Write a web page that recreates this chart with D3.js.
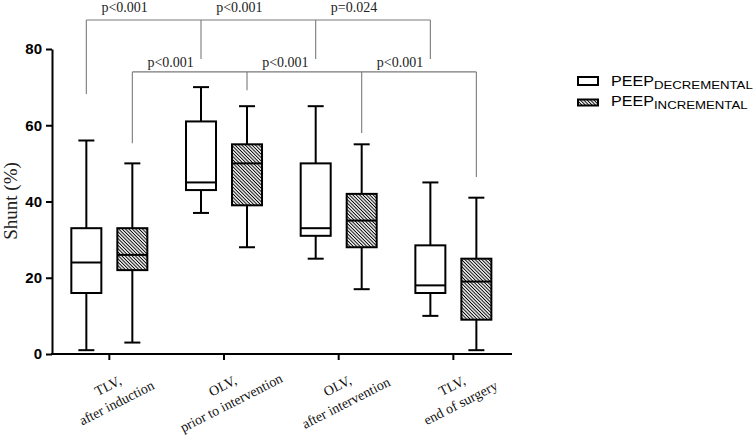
<!DOCTYPE html>
<html>
<head>
<meta charset="utf-8">
<script src="https://cdn.jsdelivr.net/npm/d3@7"></script>
<style>
html,body{margin:0;padding:0;background:#fff;}
svg{display:block;}
</style>
</head>
<body>
<svg id="chart" width="755" height="438"></svg>
<script>
// ---------- data ----------
const groups = ["TLV,|after induction", "OLV,|prior to intervention", "OLV,|after intervention", "TLV,|end of surgery"];
const series = ["DECREMENTAL", "INCREMENTAL"];
// [min, q1, median, q3, max] per group
const decremental = [
  [1, 16, 24, 33, 56],
  [37, 43, 45, 61, 70],
  [25, 31, 33, 50, 65],
  [10, 16, 18, 28.5, 45]
];
const incremental = [
  [3, 22, 26, 33, 50],
  [28, 39, 50, 55, 65],
  [17, 28, 35, 42, 55],
  [1, 9, 19, 25, 41]
];
const yTicks = [0, 20, 40, 60, 80];
const yLabel = "Shunt (%)";
// brackets: level (data units), drop end per group (data units), p labels
const topBracketLevel = 87.6;
const topBracketEnds = [68.2, 77.4, 77.4, 77.4];
const topBracketLabels = ["p<0.001", "p<0.001", "p=0.024"];
const lowBracketLevel = 74.0;
const lowBracketEnds = [55.3, 69.2, 58.0, 46.4];
const lowBracketLabels = ["p<0.001", "p<0.001", "p<0.001"];

// ---------- layout ----------
const svg = d3.select("#chart");
const serif = "'Liberation Serif','Times New Roman',serif";
const sans = "'Liberation Sans',Arial,sans-serif";

const x = d3.scaleBand().domain(groups).range([52, 510.7]).padding(0);
const xi = d3.scalePoint().domain(series).range([-23, 23]);
const y = d3.scaleLinear().domain([0, 80]).range([354, 49]);
const boxW = 30, capW = 16;
const cx = (g, s) => x(g) + x.bandwidth() / 2 + xi(s);

// hatch pattern
const defs = svg.append("defs");
const pat = defs.append("pattern").attr("id", "hatch")
  .attr("patternUnits", "userSpaceOnUse").attr("width", 8).attr("height", 2.4)
  .attr("patternTransform", "rotate(45)");
pat.append("rect").attr("width", 8).attr("height", 2.4).attr("fill", "#fff");
pat.append("line").attr("x1", 0).attr("x2", 8).attr("y1", 1.2).attr("y2", 1.2)
  .attr("stroke", "#000").attr("stroke-width", 1);

// ---------- brackets ----------
function bracket(level, ends, labels, seriesName, labelDy) {
  const g = svg.append("g").attr("stroke", "#7a7a7a").attr("stroke-width", 1.1).attr("fill", "none");
  const xs = groups.map(gr => cx(gr, seriesName));
  g.append("line").attr("x1", xs[0]).attr("x2", xs[xs.length - 1])
    .attr("y1", y(level)).attr("y2", y(level));
  xs.forEach((xx, i) => {
    g.append("line").attr("x1", xx).attr("x2", xx).attr("y1", y(level)).attr("y2", y(ends[i]));
  });
  labels.forEach((t, i) => {
    svg.append("text").attr("x", (xs[i] + xs[i + 1]) / 2 - 19).attr("y", y(level) + labelDy)
      .attr("text-anchor", "middle").attr("font-family", serif).attr("font-size", 14)
      .attr("fill", "#222").text(t);
  });
}
bracket(topBracketLevel, topBracketEnds, topBracketLabels, "DECREMENTAL", -8);
bracket(lowBracketLevel, lowBracketEnds, lowBracketLabels, "INCREMENTAL", -5);

// ---------- boxes ----------
function drawBoxes(data, s, fill) {
  data.forEach((d, i) => {
    const c = cx(groups[i], s);
    const [mn, q1, md, q3, mx] = d;
    const g = svg.append("g").attr("stroke", "#000").attr("stroke-width", 2).attr("fill", "none");
    g.append("line").attr("x1", c).attr("x2", c).attr("y1", y(mx)).attr("y2", y(q3));
    g.append("line").attr("x1", c).attr("x2", c).attr("y1", y(q1)).attr("y2", y(mn));
    g.append("line").attr("x1", c - capW / 2).attr("x2", c + capW / 2).attr("y1", y(mx)).attr("y2", y(mx));
    g.append("line").attr("x1", c - capW / 2).attr("x2", c + capW / 2).attr("y1", y(mn)).attr("y2", y(mn));
    g.append("rect").attr("x", c - boxW / 2).attr("y", y(q3)).attr("width", boxW)
      .attr("height", y(q1) - y(q3)).attr("fill", fill);
    g.append("line").attr("x1", c - boxW / 2).attr("x2", c + boxW / 2).attr("y1", y(md)).attr("y2", y(md));
  });
}
drawBoxes(decremental, "DECREMENTAL", "#fff");
drawBoxes(incremental, "INCREMENTAL", "url(#hatch)");

// ---------- axes ----------
const yAxis = svg.append("g").attr("transform", "translate(52,0)")
  .call(d3.axisLeft(y).tickValues(yTicks).tickSize(6).tickSizeOuter(0).tickPadding(4));
yAxis.select(".domain").attr("stroke-width", 2);
yAxis.selectAll(".tick line").attr("stroke-width", 2);
yAxis.selectAll(".tick text").attr("font-family", sans).attr("font-weight", "bold")
  .attr("font-size", 15).attr("fill", "#000");

const xAxis = svg.append("g").attr("transform", "translate(0,354)")
  .call(d3.axisBottom(x).tickSize(6).tickSizeOuter(0).tickFormat(""));
xAxis.select(".domain").attr("stroke-width", 2).attr("d", "M51,0H512");
xAxis.selectAll(".tick line").attr("stroke-width", 2);

// rotated two-line group labels
groups.forEach(gr => {
  const parts = gr.split("|");
  const t = svg.append("text")
    .attr("transform", `translate(${x(gr) + x.bandwidth() / 2 + 3},394.5) rotate(-27)`)
    .attr("text-anchor", "middle").attr("font-family", serif).attr("font-size", 14).attr("fill", "#111");
  t.append("tspan").attr("x", 0).attr("y", -9.5 + 4.5).text(parts[0]);
  t.append("tspan").attr("x", 0).attr("y", 9.5 + 4.5).text(parts[1]);
});

// y label
svg.append("text").attr("transform", "translate(17,201) rotate(-90)")
  .attr("text-anchor", "middle").attr("font-family", serif).attr("font-size", 19)
  .attr("fill", "#222").text(yLabel);

// ---------- legend ----------
const legRows = [
  {s: "DECREMENTAL", fill: "#fff", ry: 77, rh: 8, ty: 85.5},
  {s: "INCREMENTAL", fill: "url(#hatch)", ry: 99.5, rh: 6, ty: 105.5}
];
legRows.forEach(r => {
  svg.append("rect").attr("x", 578).attr("y", r.ry).attr("width", 20).attr("height", r.rh)
    .attr("fill", r.fill).attr("stroke", "#000").attr("stroke-width", 2);
  const t = svg.append("text")
    .attr("transform", `translate(611,${r.ty}) scale(1.15,1)`)
    .attr("font-family", sans).attr("font-size", 14).attr("fill", "#000");
  t.append("tspan").text("PEEP");
  t.append("tspan").attr("font-size", 11.5).attr("dy", 3).text(r.s);
});
</script>
</body>
</html>
